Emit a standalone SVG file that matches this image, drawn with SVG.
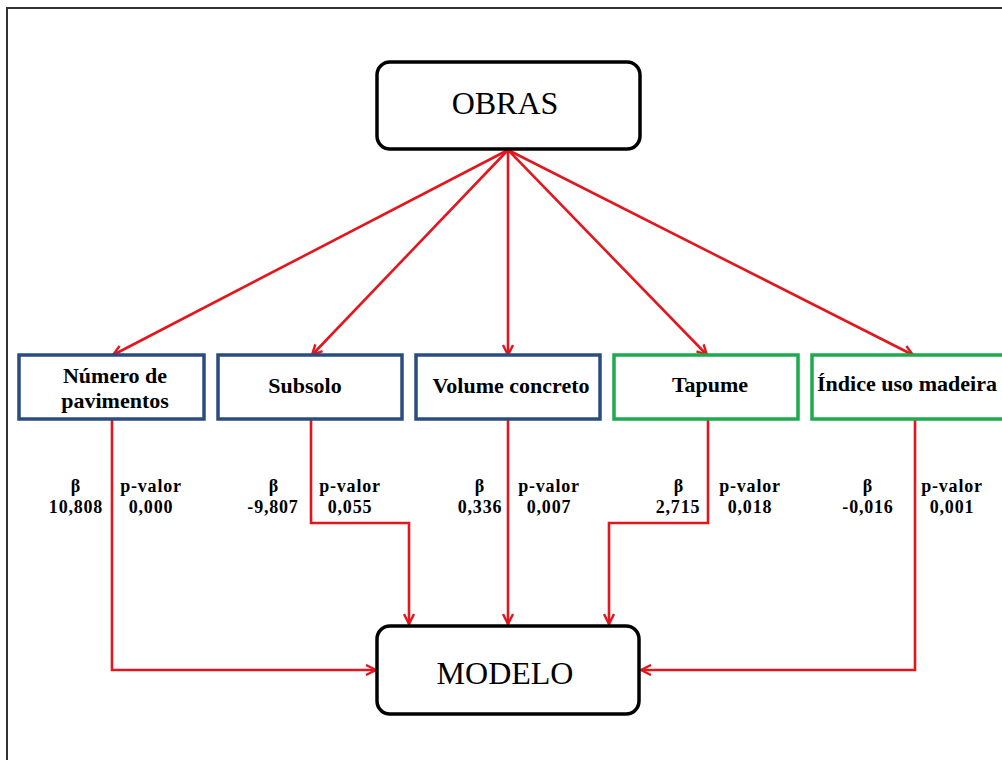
<svg xmlns="http://www.w3.org/2000/svg" width="1002" height="760" viewBox="0 0 1002 760">
<style>
.main{fill:#fff;stroke:#000;stroke-width:3.5}
.blue{fill:#fff;stroke:#2B4C7E;stroke-width:3.5}
.green{fill:#fff;stroke:#1EAA4E;stroke-width:3.5}
.big{font-family:"Liberation Serif",serif;font-size:32px;fill:#000;text-anchor:middle}
.lbl{font-family:"Liberation Serif",serif;font-weight:bold;font-size:22px;fill:#000;text-anchor:middle}
.st{font-family:"Liberation Serif",serif;font-weight:bold;font-size:18px;letter-spacing:0.8px;fill:#000;text-anchor:middle}
.con{fill:none;stroke:#E3161E;stroke-width:2.6;marker-end:url(#arr)}
</style>
<defs>
<marker id="arr" viewBox="0 0 12 12" refX="11" refY="6" markerWidth="12" markerHeight="12" markerUnits="userSpaceOnUse" orient="auto">
<path d="M1,1 L11,6 L1,11" fill="none" stroke="#E3161E" stroke-width="2.4" stroke-linejoin="miter"/>
</marker>
</defs>
<rect x="0" y="0" width="1002" height="760" fill="#fff"/>
<rect x="7" y="8" width="1000" height="760" fill="none" stroke="#333" stroke-width="2"/>

<g id="connectors">
<path class="con" d="M508,150 L113,355"/>
<path class="con" d="M508,150 L312,355"/>
<path class="con" d="M508,150 L508,355"/>
<path class="con" d="M508,150 L707,355"/>
<path class="con" d="M508,150 L913,355"/>
<path class="con" d="M112,420 V670 H376"/>
<path class="con" d="M311,420 V523 H409 V624"/>
<path class="con" d="M508,420 V624"/>
<path class="con" d="M708,420 V523 H609 V624"/>
<path class="con" d="M915,420 V670 H641"/>
</g>

<g id="obras">
<rect class="main" x="377" y="62" width="263" height="87" rx="13"/>
<text class="big" x="505" y="114">OBRAS</text>
</g>

<g id="modelo">
<rect class="main" x="377" y="626" width="262" height="88" rx="13"/>
<text class="big" x="505" y="684">MODELO</text>
</g>

<g id="n-pavimentos">
<rect class="blue" x="19" y="355" width="185" height="64"/>
<text class="lbl" x="115" y="383">Número de</text>
<text class="lbl" x="115" y="408">pavimentos</text>
<text class="st" x="76" y="492">β</text>
<text class="st" x="76" y="513">10,808</text>
<text class="st" x="151" y="492">p-valor</text>
<text class="st" x="151" y="513">0,000</text>
</g>

<g id="n-subsolo">
<rect class="blue" x="218" y="355" width="184" height="64"/>
<text class="lbl" x="305" y="393">Subsolo</text>
<text class="st" x="274" y="492">β</text>
<text class="st" x="273" y="513">-9,807</text>
<text class="st" x="350" y="492">p-valor</text>
<text class="st" x="350" y="513">0,055</text>
</g>

<g id="n-volume">
<rect class="blue" x="416" y="355" width="184" height="64"/>
<text class="lbl" x="511" y="393">Volume concreto</text>
<text class="st" x="480" y="492">β</text>
<text class="st" x="480" y="513">0,336</text>
<text class="st" x="549" y="492">p-valor</text>
<text class="st" x="549" y="513">0,007</text>
</g>

<g id="n-tapume">
<rect class="green" x="614" y="355" width="184" height="64"/>
<text class="lbl" x="710" y="392">Tapume</text>
<text class="st" x="679" y="492">β</text>
<text class="st" x="678" y="513">2,715</text>
<text class="st" x="750" y="492">p-valor</text>
<text class="st" x="750" y="513">0,018</text>
</g>

<g id="n-indice">
<rect class="green" x="812" y="355" width="192" height="64"/>
<text class="lbl" x="907" y="391" textLength="180" lengthAdjust="spacingAndGlyphs">Índice uso madeira</text>
<text class="st" x="868" y="492">β</text>
<text class="st" x="868" y="513">-0,016</text>
<text class="st" x="952" y="492">p-valor</text>
<text class="st" x="952" y="513">0,001</text>
</g>
</svg>
